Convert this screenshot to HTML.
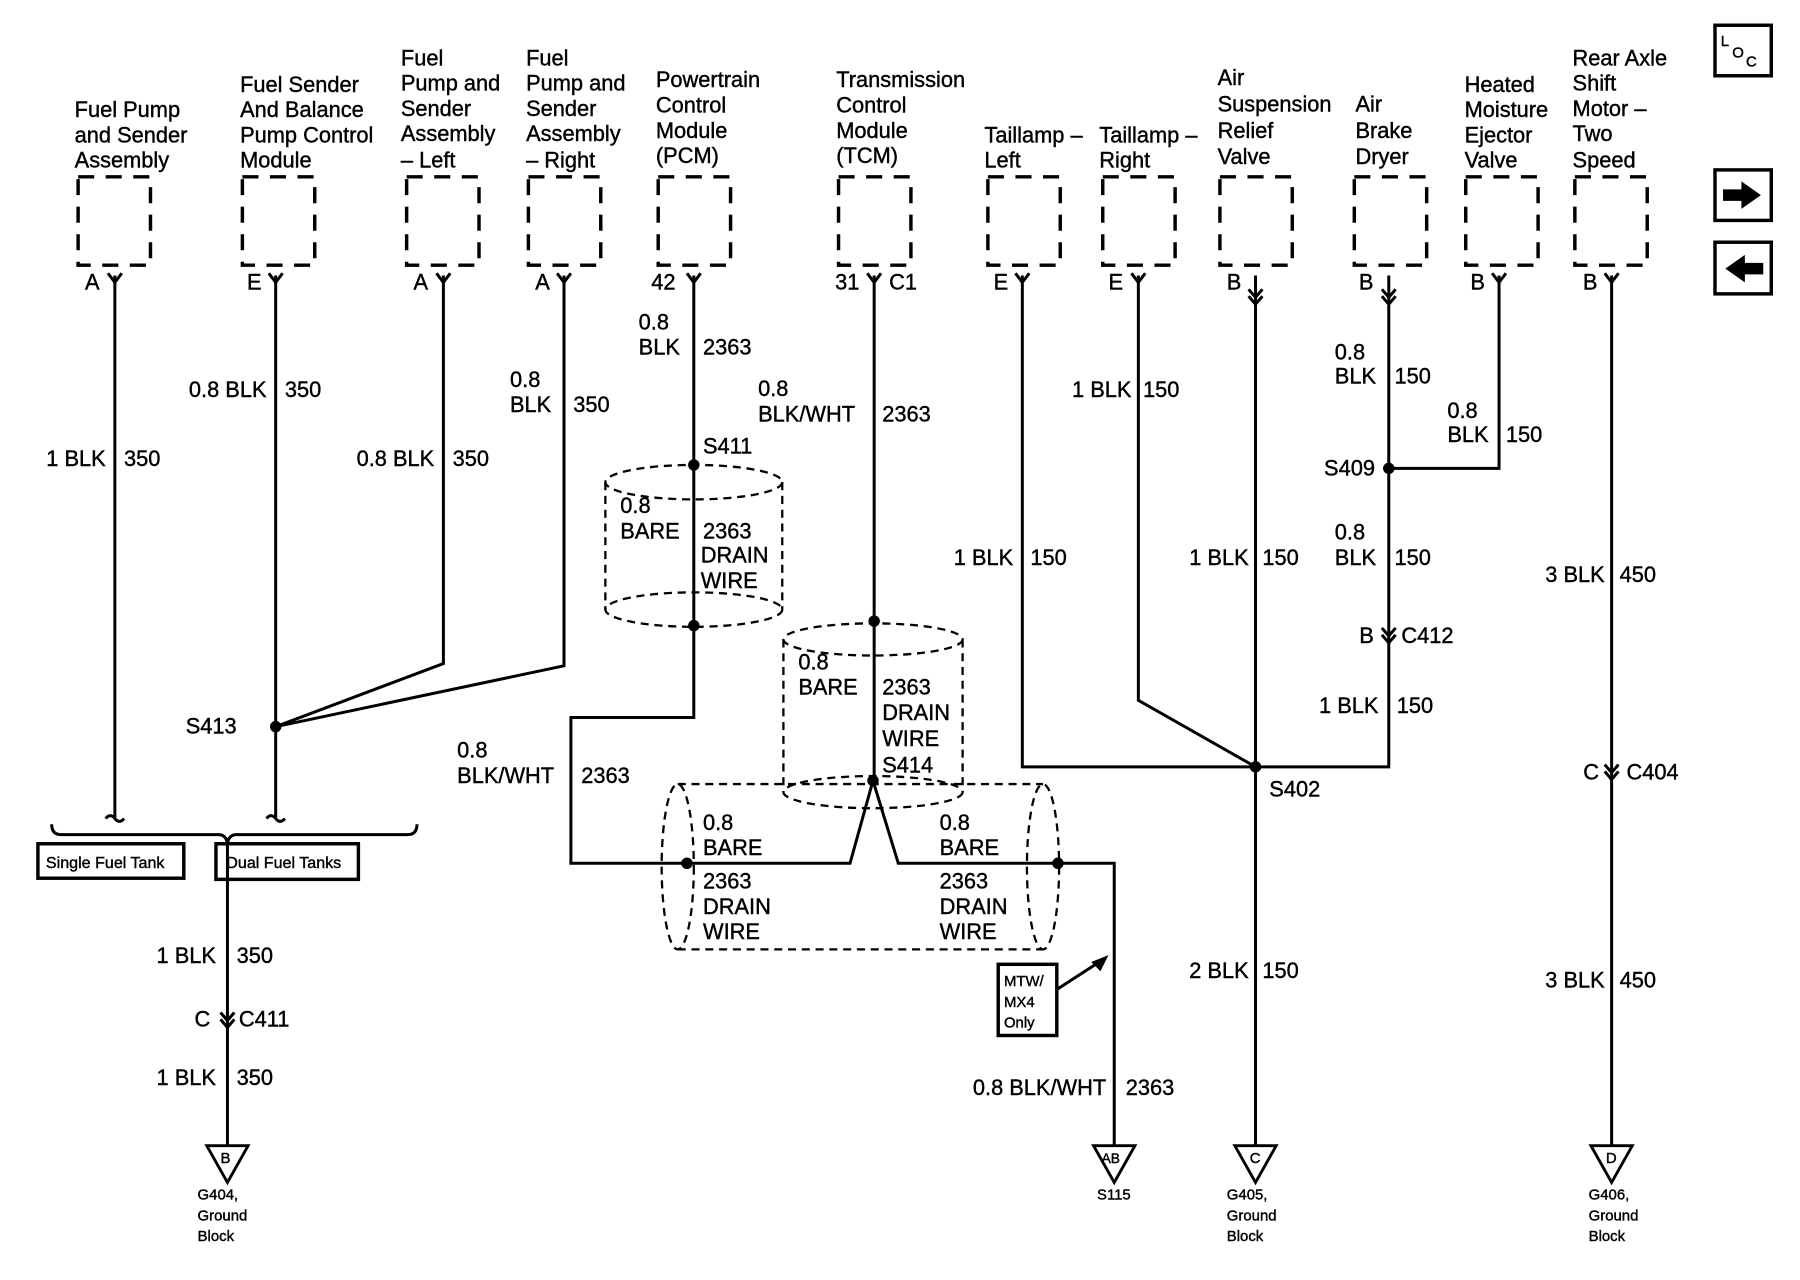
<!DOCTYPE html>
<html><head><meta charset="utf-8"><style>
html,body{margin:0;padding:0;background:#fff;width:1800px;height:1280px;overflow:hidden}
svg{display:block}
text{font-family:"Liberation Sans",Arial,sans-serif;font-size:19px;fill:#000;stroke:#000;stroke-width:0.35}
.s{font-size:13px}
.w{stroke:#000;stroke-width:2.6;fill:none}
.d{stroke:#000;stroke-width:2;fill:none;stroke-dasharray:7 5}
.b{stroke:#000;stroke-width:3;fill:none;stroke-dasharray:14 10}
.e{text-anchor:end}
</style></head><body>
<svg width="1800" height="1280" viewBox="0 0 1567 1115" preserveAspectRatio="none" xmlns="http://www.w3.org/2000/svg">
<g class="b">
<rect x="68" y="154" width="63" height="77"/><rect x="211" y="154" width="63" height="77"/>
<rect x="354" y="154" width="63" height="77"/><rect x="460" y="154" width="63" height="77"/>
<rect x="573" y="154" width="63" height="77"/><rect x="730" y="154" width="63" height="77"/>
<rect x="860" y="154" width="63" height="77"/><rect x="960" y="154" width="63" height="77"/>
<rect x="1062" y="154" width="63" height="77"/><rect x="1179" y="154" width="63" height="77"/>
<rect x="1276" y="154" width="63" height="77"/><rect x="1371" y="154" width="63" height="77"/>
</g>
<text x="65" y="102">Fuel Pump</text><text x="65" y="124">and Sender</text><text x="65" y="146">Assembly</text>
<text x="209" y="80">Fuel Sender</text><text x="209" y="102">And Balance</text><text x="209" y="124">Pump Control</text><text x="209" y="146">Module</text>
<text x="349" y="57">Fuel</text><text x="349" y="79">Pump and</text><text x="349" y="101">Sender</text><text x="349" y="123">Assembly</text><text x="349" y="146">– Left</text>
<text x="458" y="57">Fuel</text><text x="458" y="79">Pump and</text><text x="458" y="101">Sender</text><text x="458" y="123">Assembly</text><text x="458" y="146">– Right</text>
<text x="571" y="76">Powertrain</text><text x="571" y="98">Control</text><text x="571" y="120">Module</text><text x="571" y="142">(PCM)</text>
<text x="728" y="76">Transmission</text><text x="728" y="98">Control</text><text x="728" y="120">Module</text><text x="728" y="142">(TCM)</text>
<text x="857" y="124">Taillamp –</text><text x="857" y="146">Left</text>
<text x="957" y="124">Taillamp –</text><text x="957" y="146">Right</text>
<text x="1060" y="74">Air</text><text x="1060" y="97">Suspension</text><text x="1060" y="120">Relief</text><text x="1060" y="143">Valve</text>
<text x="1180" y="97">Air</text><text x="1180" y="120">Brake</text><text x="1180" y="143">Dryer</text>
<text x="1275" y="80">Heated</text><text x="1275" y="102">Moisture</text><text x="1275" y="124">Ejector</text><text x="1275" y="146">Valve</text>
<text x="1369" y="57">Rear Axle</text><text x="1369" y="79">Shift</text><text x="1369" y="101">Motor –</text><text x="1369" y="123">Two</text><text x="1369" y="146">Speed</text>
<g stroke="#000" stroke-width="3" fill="none">
<rect x="1493" y="22" width="49" height="44"/><rect x="1493" y="148" width="49" height="44"/><rect x="1493" y="211" width="49" height="45"/>
</g>
<text class="s" x="1498" y="40">L</text><text class="s" x="1508" y="50">O</text><text class="s" x="1520" y="58">C</text>
<polygon points="1500,165 1516,165 1516,158 1533,170 1516,182 1516,175 1500,175"/>
<polygon points="1535,229 1519,229 1519,222 1502,234 1519,246 1519,239 1535,239"/>
<text x="74" y="252">A</text><text x="215" y="252">E</text><text x="360" y="252">A</text><text x="466" y="252">A</text>
<text x="567" y="252">42</text><text x="727" y="252">31</text><text x="774" y="252">C1</text>
<text x="865" y="252">E</text><text x="965" y="252">E</text><text x="1068" y="252">B</text><text x="1183" y="252">B</text><text x="1280" y="252">B</text><text x="1378" y="252">B</text>
<g class="w" stroke-width="2">
<path d="M94,238 L100,246 L106,238"/><path d="M234,238 L240,246 L246,238"/><path d="M380,238 L386,246 L392,238"/><path d="M485,238 L491,246 L497,238"/>
<path d="M598,238 L604,246 L610,238"/><path d="M755,238 L761,246 L767,238"/><path d="M884,238 L890,246 L896,238"/><path d="M985,238 L991,246 L997,238"/>
<path d="M1299,238 L1305,246 L1311,238"/><path d="M1397,238 L1403,246 L1409,238"/>
<path d="M1087,252 L1093,259 L1099,252 M1087,258 L1093,265 L1099,258"/><path d="M1203,252 L1209,259 L1215,252 M1203,258 L1209,265 L1215,258"/>
<path d="M192,882 L198,889 L204,882 M192,888 L198,895 L204,888"/>
<path d="M1203,547 L1209,554 L1215,547 M1203,553 L1209,560 L1215,553"/>
<path d="M1397,666 L1403,673 L1409,666 M1397,672 L1403,679 L1409,672"/>
</g>
<g class="w">
<path d="M100,240 V712 M92,713 q4,-5 8,0 q4,5 8,0"/>
<path d="M240,240 V712 M232,713 q4,-5 8,0 q4,5 8,0"/>
<path d="M386,240 V578 L240,633"/><path d="M491,240 V580 L240,633"/>
<path d="M45,718 q0,9 8,9 H190 q7,0 8,8 q1,-8 8,-8 H355 q8,0 8,-9"/>
<path d="M198,730 V998"/>
<path d="M604,240 V625 H497 V752 H740 L760,680 L782,752 H970 V998"/>
<path d="M761,240 V680"/>
<path d="M890,240 V668 H1209 V240"/>
<path d="M991,240 V610 L1093,668"/>
<path d="M1093,240 V998"/>
<path d="M1305,240 V408 H1209"/>
<path d="M1403,240 V998"/>
<path d="M920,862 L960,836"/>
</g>
<polygon points="965,832 950,838 958,846"/>
<g stroke="#000" stroke-width="3" fill="none">
<rect x="33" y="735" width="127" height="30"/><rect x="188" y="735" width="124" height="31"/><rect x="869" y="840" width="51" height="62"/>
</g>
<text x="40" y="756" style="font-size:14px">Single Fuel Tank</text><text x="197" y="756" style="font-size:14px">Dual Fuel Tanks</text>
<text class="s" x="874" y="859">MTW/</text><text class="s" x="874" y="877">MX4</text><text class="s" x="874" y="895">Only</text>
<g stroke="#000" stroke-width="2.5" fill="#fff">
<polygon points="180,998 216,998 198,1030"/><polygon points="952,998 988,998 970,1030"/><polygon points="1075,998 1111,998 1093,1030"/><polygon points="1385,998 1421,998 1403,1030"/>
</g>
<text class="s" x="192" y="1013">B</text><text class="s" x="959" y="1013" style="font-size:12px">AB</text><text class="s" x="1088" y="1013">C</text><text class="s" x="1398" y="1013">D</text>
<text class="s" x="172" y="1045">G404,</text><text class="s" x="172" y="1063">Ground</text><text class="s" x="172" y="1081">Block</text>
<text class="s" x="955" y="1045">S115</text>
<text class="s" x="1068" y="1045">G405,</text><text class="s" x="1068" y="1063">Ground</text><text class="s" x="1068" y="1081">Block</text>
<text class="s" x="1383" y="1045">G406,</text><text class="s" x="1383" y="1063">Ground</text><text class="s" x="1383" y="1081">Block</text>
<g class="d">
<ellipse cx="604" cy="420" rx="77" ry="15"/><ellipse cx="604" cy="531" rx="77" ry="15"/><path d="M527,420 V531 M681,420 V531"/>
<ellipse cx="760" cy="557" rx="78" ry="14"/><ellipse cx="760" cy="690" rx="78" ry="14"/><path d="M682,557 V690 M838,557 V690"/>
<path d="M590,683 H908 M590,827 H908"/><ellipse cx="590" cy="755" rx="14" ry="72"/><ellipse cx="908" cy="755" rx="14" ry="72"/>
</g>
<g><circle cx="240" cy="633" r="5"/><circle cx="604" cy="405" r="5"/><circle cx="604" cy="545" r="5"/><circle cx="761" cy="541" r="5"/><circle cx="760" cy="680" r="5"/>
<circle cx="598" cy="752" r="5"/><circle cx="921" cy="752" r="5"/><circle cx="1093" cy="668" r="5"/><circle cx="1209" cy="408" r="5"/></g>
<text class="e" x="92" y="406">1 BLK</text><text x="108" y="406">350</text>
<text class="e" x="232" y="346">0.8 BLK</text><text x="248" y="346">350</text>
<text class="e" x="378" y="406">0.8 BLK</text><text x="394" y="406">350</text>
<text x="444" y="337">0.8</text><text x="444" y="359">BLK</text><text x="499" y="359">350</text>
<text x="206" y="639" class="e">S413</text>
<text class="e" x="188" y="839">1 BLK</text><text x="206" y="839">350</text>
<text class="e" x="183" y="894">C</text><text x="208" y="894">C411</text>
<text class="e" x="188" y="945">1 BLK</text><text x="206" y="945">350</text>
<text x="556" y="287">0.8</text><text x="556" y="309">BLK</text><text x="612" y="309">2363</text>
<text x="612" y="395">S411</text>
<text x="540" y="447">0.8</text><text x="540" y="469">BARE</text><text x="612" y="469">2363</text><text x="610" y="490">DRAIN</text><text x="610" y="512">WIRE</text>
<text x="660" y="345">0.8</text><text x="660" y="367">BLK/WHT</text><text x="768" y="367">2363</text>
<text x="695" y="583">0.8</text><text x="695" y="605">BARE</text><text x="768" y="605">2363</text><text x="768" y="627">DRAIN</text><text x="768" y="650">WIRE</text><text x="768" y="673">S414</text>
<text x="398" y="660">0.8</text><text x="398" y="682">BLK/WHT</text><text x="506" y="682">2363</text>
<text x="612" y="723">0.8</text><text x="612" y="745">BARE</text><text x="612" y="774">2363</text><text x="612" y="796">DRAIN</text><text x="612" y="818">WIRE</text>
<text x="818" y="723">0.8</text><text x="818" y="745">BARE</text><text x="818" y="774">2363</text><text x="818" y="796">DRAIN</text><text x="818" y="818">WIRE</text>
<text class="e" x="963" y="954">0.8 BLK/WHT</text><text x="980" y="954">2363</text>
<text class="e" x="882" y="492">1 BLK</text><text x="897" y="492">150</text>
<text class="e" x="985" y="346">1 BLK</text><text x="995" y="346">150</text>
<text class="e" x="1087" y="492">1 BLK</text><text x="1099" y="492">150</text>
<text x="1105" y="694">S402</text>
<text class="e" x="1087" y="852">2 BLK</text><text x="1099" y="852">150</text>
<text x="1162" y="313">0.8</text><text x="1162" y="334">BLK</text><text x="1214" y="334">150</text>
<text x="1260" y="364">0.8</text><text x="1260" y="385">BLK</text><text x="1311" y="385">150</text>
<text class="e" x="1197" y="414">S409</text>
<text x="1162" y="470">0.8</text><text x="1162" y="492">BLK</text><text x="1214" y="492">150</text>
<text class="e" x="1196" y="560">B</text><text x="1220" y="560">C412</text>
<text class="e" x="1200" y="621">1 BLK</text><text x="1216" y="621">150</text>
<text class="e" x="1397" y="507">3 BLK</text><text x="1410" y="507">450</text>
<text class="e" x="1392" y="679">C</text><text x="1416" y="679">C404</text>
<text class="e" x="1397" y="860">3 BLK</text><text x="1410" y="860">450</text>
</svg>
</body></html>
